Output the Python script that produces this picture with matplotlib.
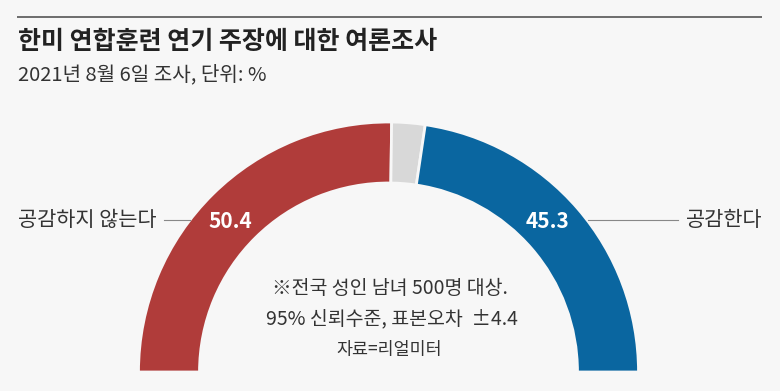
import matplotlib
matplotlib.use("Agg")
import matplotlib.pyplot as plt
from matplotlib.patches import Wedge

plt.rcParams['font.family'] = ['Noto Sans CJK KR', 'DejaVu Sans']

categories = ['공감하지 않는다', '잘 모름', '공감한다']
values = [50.4, 4.3, 45.3]
colors = ['#B03C3A', '#D8D8D8', '#0A66A0']
value_labels = ['50.4', '', '45.3']

title = '한미 연합훈련 연기 주장에 대한 여론조사'
subtitle = '2021년 8월 6일 조사, 단위: %'
notes = ['※전국 성인 남녀 500명 대상.', '95% 신뢰수준, 표본오차  ±4.4']
source = '자료=리얼미터'

BG = '#F7F7F7'
W, H = 780, 391
fig = plt.figure(figsize=(W / 100, H / 100), dpi=100, facecolor=BG)
ax = fig.add_axes([0, 0, 1, 1])
ax.set_xlim(0, W)
ax.set_ylim(0, H)
ax.axis('off')
ax.set_facecolor(BG)

def Y(py):
    return H - py

# top rule
ax.plot([17, 762], [Y(17), Y(17)], color='#555555', lw=1.2, solid_capstyle='butt')

ax.text(18, Y(42), title, fontsize=18, fontweight='bold', color='#222222', va='center', ha='left')
ax.text(18, Y(75), subtitle, fontsize=14.5, color='#333333', va='center', ha='left')

cx, cy = 388.5, Y(372)
r_out, width = 250, 61
total = sum(values)
start = 180.0
for cat, v, c, lab in zip(categories, values, colors, value_labels):
    span = v / total * 180.0
    end = start - span
    w = Wedge((cx, cy), r_out, end, start, width=width, facecolor=c, edgecolor=BG, lw=2)
    ax.add_patch(w)
    start = end

# value labels
ax.text(230, Y(221), value_labels[0], fontsize=15, fontweight='bold', color='white', ha='center', va='center')
ax.text(548, Y(221), value_labels[2], fontsize=15, fontweight='bold', color='white', ha='center', va='center')

# category labels with leader lines
ax.text(18, Y(220), categories[0], fontsize=15, color='#333333', ha='left', va='center')
ax.plot([164, 190], [Y(220), Y(220)], color='#888888', lw=0.8)
ax.text(762, Y(220), categories[2], fontsize=15, color='#333333', ha='right', va='center')
ax.plot([588, 678], [Y(220), Y(220)], color='#888888', lw=0.8)

ax.text(390, Y(289), notes[0], fontsize=14, color='#333333', ha='center', va='center')
ax.text(392, Y(319), notes[1], fontsize=14, color='#333333', ha='center', va='center')
ax.text(389, Y(350), source, fontsize=12.5, color='#333333', ha='center', va='center')

fig.savefig('out.png', dpi=100, facecolor=BG)
